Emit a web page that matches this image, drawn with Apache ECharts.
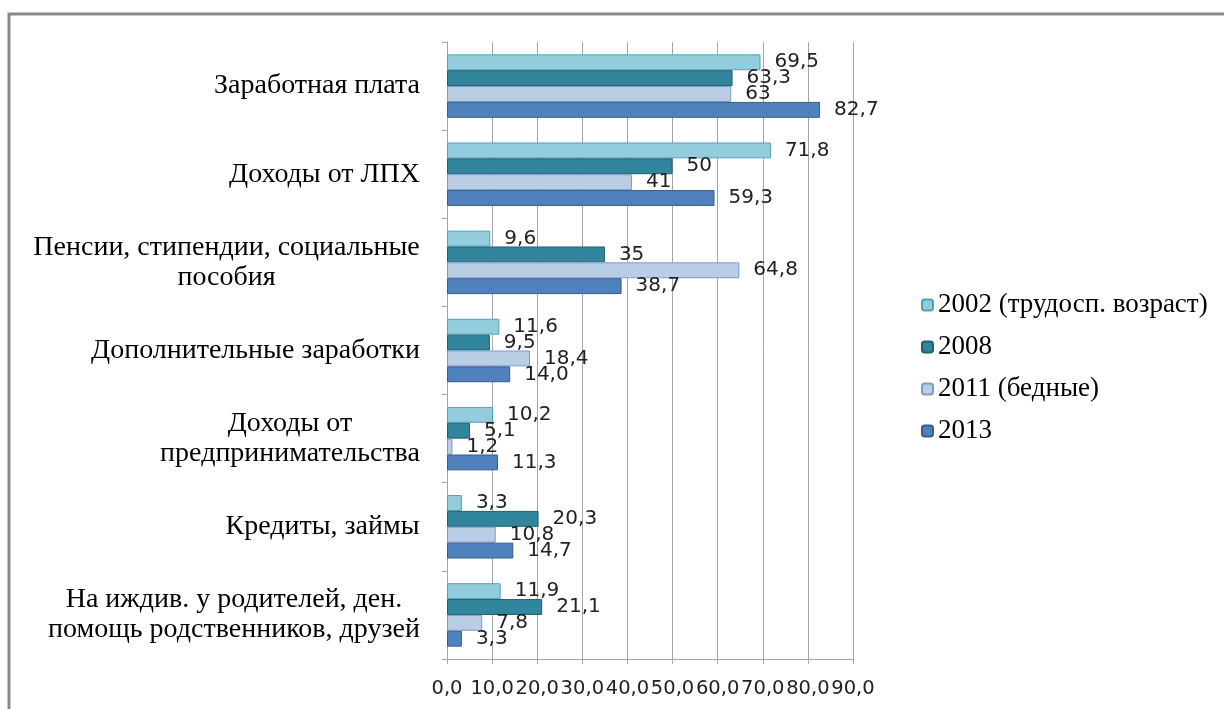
<!DOCTYPE html>
<html>
<head>
<meta charset="utf-8">
<script src="https://cdn.jsdelivr.net/npm/echarts@6/dist/echarts.min.js"></script>
<style>
  html, body { margin: 0; padding: 0; background: #fff; }
  #main { width: 1224px; height: 709px; }
</style>
</head>
<body>
<div id="main"></div>
<script>
// категории (сверху вниз)
const categories = [
  "Заработная плата",
  "Доходы от ЛПХ",
  "Пенсии, стипендии, социальные\nпособия",
  "Дополнительные заработки",
  "Доходы от\nпредпринимательства",
  "Кредиты, займы",
  "На иждив. у родителей, ден.\nпомощь родственников, друзей"
];
const seriesNames = ["2002 (трудосп. возраст)", "2008", "2011 (бедные)", "2013"];
// значения, как подписаны на диаграмме
const v2002 = ["69,5", "71,8", "9,6", "11,6", "10,2", "3,3", "11,9"];
const v2008 = ["63,3", "50", "35", "9,5", "5,1", "20,3", "21,1"];
const v2011 = ["63", "41", "64,8", "18,4", "1,2", "10,8", "7,8"];
const v2013 = ["82,7", "59,3", "38,7", "14,0", "11,3", "14,7", "3,3"];
const xTicks = [0, 10, 20, 30, 40, 50, 60, 70, 80, 90];

const colors = ["#93CDDD", "#31859C", "#B9CDE5", "#4F81BD"];
const borders = ["#4FA3B8", "#1F5F70", "#7E9BC4", "#385D8A"];

const chart = echarts.init(document.getElementById("main"));

// ширина самой длинной строки подписи — чтобы строки центрировались
const ctx = document.createElement("canvas").getContext("2d");
ctx.font = "28px 'Liberation Serif'";
const rich = {};
categories.forEach((c, i) => {
  const w = Math.max(...c.split("\n").map((s) => ctx.measureText(s).width));
  rich["c" + i] = {
    width: Math.ceil(w) + 2,
    align: "center",
    fontFamily: "Liberation Serif",
    fontSize: 28,
    lineHeight: 30,
    color: "#000"
  };
});

const allValues = [v2002, v2008, v2011, v2013];

const option = {
  animation: false,
  backgroundColor: "#fff",
  graphic: [
    {
      type: "rect",
      shape: { x: 9, y: 14, width: 1240, height: 720 },
      style: { fill: "none", stroke: "#898989", lineWidth: 3 },
      silent: true
    }
  ],
  legend: {
    orient: "vertical",
    left: 916,
    top: 285,
    itemWidth: 11,
    itemHeight: 11,
    itemGap: 12,
    data: seriesNames,
    textStyle: {
      fontFamily: "Liberation Serif",
      fontSize: 27,
      lineHeight: 30,
      color: "#000"
    }
  },
  grid: { left: 447, right: 371, top: 42, bottom: 50 },
  xAxis: {
    type: "value",
    min: xTicks[0],
    max: xTicks[xTicks.length - 1],
    interval: 10,
    axisLine: { show: true, lineStyle: { color: "#A6A6A6", width: 1 } },
    axisTick: { show: true, length: 5, lineStyle: { color: "#A6A6A6" } },
    splitLine: { show: true, lineStyle: { color: "#A6A6A6", width: 1 } },
    axisLabel: {
      margin: 20,
      fontFamily: "DejaVu Sans",
      fontSize: 19.5,
      color: "#222",
      formatter: (v) => v.toFixed(1).replace(".", ",")
    }
  },
  yAxis: {
    type: "category",
    inverse: true,
    data: categories,
    axisLine: { show: true, lineStyle: { color: "#A6A6A6", width: 1 } },
    axisTick: { show: true, length: 5, lineStyle: { color: "#A6A6A6" } },
    axisLabel: {
      interval: 0,
      margin: 26,
      formatter: (value, idx) =>
        value.split("\n").map((s) => "{c" + idx + "|" + s + "}").join("\n"),
      rich: rich
    }
  },
  series: seriesNames.map((name, si) => ({
    name: name,
    type: "bar",
    barGap: "0%",
    barCategoryGap: "28%",
    data: allValues[si].map((s) => parseFloat(s.replace(",", "."))),
    itemStyle: {
      color: colors[si],
      borderColor: borders[si],
      borderWidth: 1
    },
    label: {
      show: true,
      position: "right",
      distance: 14,
      fontFamily: "DejaVu Sans",
      fontSize: 20,
      color: "#222",
      formatter: (p) => allValues[si][p.dataIndex]
    },
    z: 2
  }))
};

chart.setOption(option);
</script>
</body>
</html>
